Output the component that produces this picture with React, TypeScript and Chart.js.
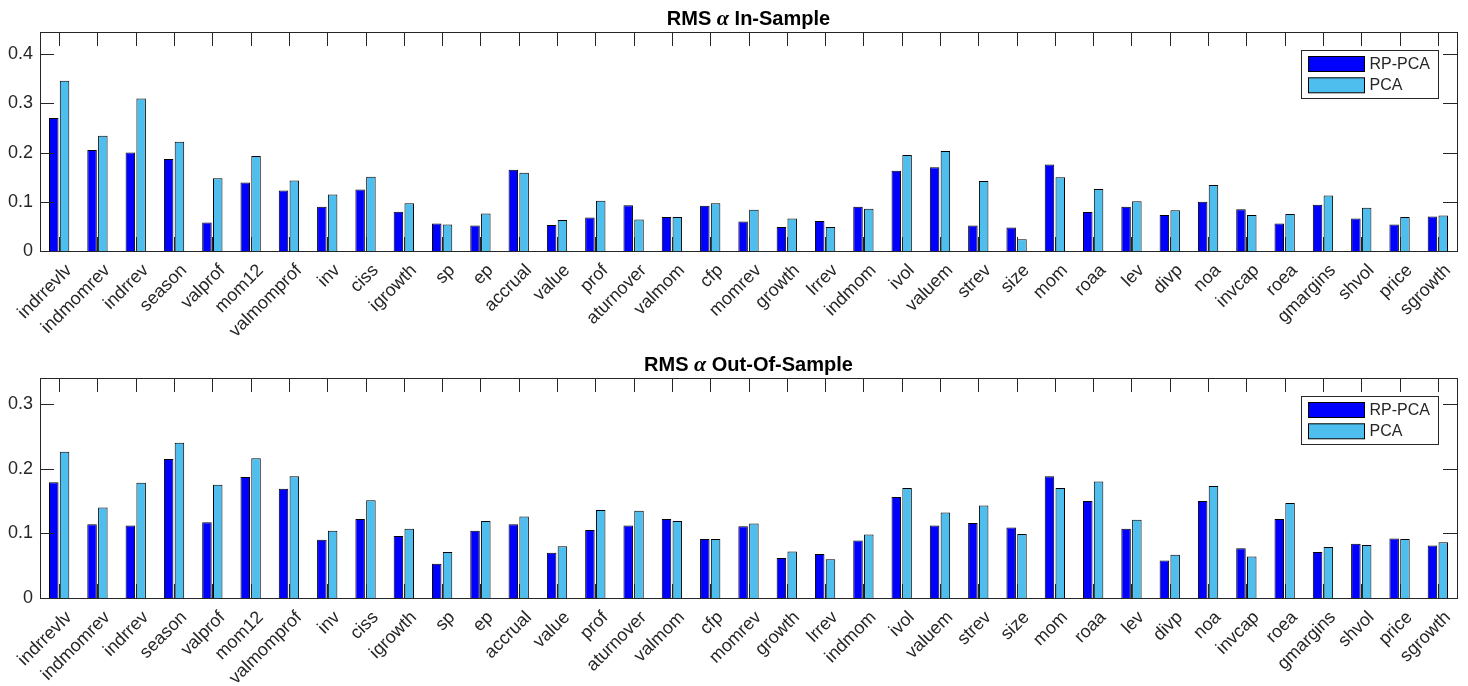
import React, { useEffect, useRef } from 'react';
import { Chart, registerables } from 'chart.js';

Chart.register(...registerables);

const categories = [
  'indrrevlv', 'indmomrev', 'indrrev', 'season', 'valprof', 'mom12', 'valmomprof', 'inv', 'ciss', 'igrowth',
  'sp', 'ep', 'accrual', 'value', 'prof', 'aturnover', 'valmom', 'cfp', 'momrev', 'growth',
  'lrrev', 'indmom', 'ivol', 'valuem', 'strev', 'size', 'mom', 'roaa', 'lev', 'divp',
  'noa', 'invcap', 'roea', 'gmargins', 'shvol', 'price', 'sgrowth',
];

const seriesNames = ['RP-PCA', 'PCA'];

const rpInSample = [
  0.270, 0.205, 0.200, 0.187, 0.058, 0.139, 0.123, 0.090, 0.125, 0.080,
  0.056, 0.052, 0.165, 0.053, 0.068, 0.093, 0.069, 0.092, 0.060, 0.049,
  0.061, 0.090, 0.163, 0.170, 0.052, 0.048, 0.176, 0.079, 0.090, 0.073,
  0.100, 0.085, 0.056, 0.094, 0.066, 0.054, 0.070,
];
const pcaInSample = [
  0.346, 0.234, 0.310, 0.222, 0.148, 0.193, 0.143, 0.115, 0.151, 0.097,
  0.054, 0.076, 0.159, 0.063, 0.102, 0.064, 0.069, 0.097, 0.084, 0.066,
  0.049, 0.086, 0.195, 0.203, 0.142, 0.024, 0.150, 0.126, 0.101, 0.083,
  0.134, 0.073, 0.075, 0.113, 0.088, 0.069, 0.072,
];
const rpOutSample = [
  0.179, 0.114, 0.112, 0.215, 0.117, 0.187, 0.169, 0.090, 0.122, 0.096,
  0.053, 0.104, 0.114, 0.070, 0.105, 0.112, 0.122, 0.091, 0.111, 0.062,
  0.068, 0.089, 0.156, 0.112, 0.116, 0.109, 0.188, 0.150, 0.107, 0.058,
  0.150, 0.077, 0.122, 0.071, 0.084, 0.092, 0.081,
];
const pcaOutSample = [
  0.226, 0.140, 0.178, 0.240, 0.175, 0.216, 0.188, 0.104, 0.151, 0.107,
  0.071, 0.119, 0.126, 0.080, 0.136, 0.135, 0.119, 0.091, 0.115, 0.072,
  0.060, 0.098, 0.170, 0.132, 0.143, 0.099, 0.170, 0.180, 0.121, 0.067,
  0.173, 0.064, 0.147, 0.079, 0.082, 0.091, 0.086,
];

const inYTicks = [0, 0.1, 0.2, 0.3, 0.4];
const outYTicks = [0, 0.1, 0.2, 0.3];
const inTitle = ['RMS ', 'α', ' In-Sample'];
const outTitle = ['RMS ', 'α', ' Out-Of-Sample'];

const RP_COLOR = '#0000FF';
const PCA_COLOR = '#4DBEEE';
const AXIS_COLOR = '#262626';
const FONT = '"Liberation Sans", Arial, Helvetica, sans-serif';
const TICK_LEN = 14;

const framePlugin = {
  id: 'matlabFrame',
  afterDraw(chart: any, _args: any, opts: any) {
    const { ctx, chartArea: a } = chart;
    const xs = chart.scales.x;
    const ys = chart.scales.y;
    ctx.save();
    ctx.strokeStyle = AXIS_COLOR;
    ctx.lineWidth = 1;
    ctx.beginPath();
    xs.ticks.forEach((_t: any, i: number) => {
      const px = Math.round(xs.getPixelForTick(i)) + 0.5;
      ctx.moveTo(px, a.bottom);
      ctx.lineTo(px, a.bottom - TICK_LEN);
      ctx.moveTo(px, a.top);
      ctx.lineTo(px, a.top + TICK_LEN);
    });
    ys.ticks.forEach((_t: any, i: number) => {
      const py = Math.round(ys.getPixelForTick(i)) + 0.5;
      ctx.moveTo(a.left, py);
      ctx.lineTo(a.left + TICK_LEN, py);
      ctx.moveTo(a.right, py);
      ctx.lineTo(a.right - TICK_LEN, py);
    });
    ctx.stroke();
    ctx.strokeRect(Math.round(a.left) + 0.5, Math.round(a.top) + 0.5, Math.round(a.right - a.left), Math.round(a.bottom - a.top));

    // legend
    const boxW = 137;
    const boxH = 48;
    const bx = Math.round(a.right - 19 - boxW) + 0.5;
    const by = Math.round(a.top + 18) + 0.5;
    ctx.fillStyle = '#ffffff';
    ctx.fillRect(bx, by, boxW, boxH);
    ctx.strokeRect(bx, by, boxW, boxH);
    ctx.font = `16px ${FONT}`;
    ctx.textBaseline = 'middle';
    ctx.textAlign = 'left';
    chart.data.datasets.forEach((ds: any, i: number) => {
      const py = by + 6 + i * 21.3;
      ctx.fillStyle = ds.backgroundColor;
      ctx.fillRect(bx + 7, py, 56, 15);
      ctx.strokeStyle = '#000';
      ctx.strokeRect(bx + 7, py, 56, 15);
      ctx.fillStyle = AXIS_COLOR;
      ctx.fillText(ds.label, bx + 68, py + 8);
    });

    // title
    const parts: string[] = opts.title;
    const fonts = [`bold 20px ${FONT}`, `italic bold 22px "Liberation Serif", "Times New Roman", serif`, `bold 20px ${FONT}`];
    let total = 0;
    const widths = parts.map((p, i) => {
      ctx.font = fonts[i];
      const w = ctx.measureText(p).width;
      total += w;
      return w;
    });
    let tx = (a.left + a.right) / 2 - total / 2;
    ctx.fillStyle = '#000';
    ctx.textBaseline = 'alphabetic';
    parts.forEach((p, i) => {
      ctx.font = fonts[i];
      ctx.fillText(p, tx, opts.titleBaseline);
      tx += widths[i];
    });
    ctx.restore();
  },
};

type PanelProps = {
  top: number;
  height: number;
  rp: number[];
  pca: number[];
  yMax: number;
  yTicks: number[];
  title: string[];
  padTop: number;
  xHeight: number;
  titleBaseline: number;
};

function Panel(props: PanelProps) {
  const ref = useRef<HTMLCanvasElement | null>(null);
  useEffect(() => {
    if (!ref.current) return;
    const chart = new Chart(ref.current, {
      type: 'bar',
      data: {
        labels: categories,
        datasets: [
          {
            label: seriesNames[0],
            data: props.rp,
            backgroundColor: RP_COLOR,
            borderColor: '#000000',
            borderWidth: 1,
            categoryPercentage: 0.564,
            barPercentage: 0.88,
          },
          {
            label: seriesNames[1],
            data: props.pca,
            backgroundColor: PCA_COLOR,
            borderColor: '#000000',
            borderWidth: 1,
            categoryPercentage: 0.564,
            barPercentage: 0.88,
          },
        ],
      },
      options: {
        responsive: false,
        animation: false,
        layout: { padding: { left: 0, right: 11, top: props.padTop, bottom: 0 } },
        plugins: {
          legend: { display: false },
          title: { display: false },
          tooltip: { enabled: false },
          matlabFrame: { title: props.title, titleBaseline: props.titleBaseline },
        } as any,
        scales: {
          x: {
            grid: { display: false, drawTicks: false },
            border: { display: false },
            ticks: {
              autoSkip: false,
              minRotation: 45,
              maxRotation: 45,
              font: { family: FONT, size: 18 },
              color: AXIS_COLOR,
              padding: 9,
              labelOffset: 10,
            },
            afterFit: (s: any) => {
              s.height = props.xHeight;
            },
          },
          y: {
            min: 0,
            max: props.yMax,
            grid: { display: false, drawTicks: false },
            border: { display: false },
            ticks: {
              font: { family: FONT, size: 18 },
              color: AXIS_COLOR,
              padding: 7,
              callback: (v: any) => String(Math.round(Number(v) * 10) / 10),
            },
            afterBuildTicks: (s: any) => {
              s.ticks = props.yTicks.map((v) => ({ value: v }));
            },
            afterFit: (s: any) => {
              s.width = 40;
            },
          },
        },
      },
      plugins: [framePlugin],
    });
    return () => chart.destroy();
  }, []);
  return (
    <canvas
      ref={ref}
      width={1468}
      height={props.height}
      style={{ position: 'absolute', left: 0, top: props.top, width: 1468, height: props.height }}
    />
  );
}

export default function App() {
  return (
    <div style={{ position: 'absolute', left: 0, top: 0, width: 1468, height: 686, background: '#ffffff' }}>
      <Panel top={0} height={343} rp={rpInSample} pca={pcaInSample} yMax={0.445} yTicks={inYTicks}
        title={inTitle} padTop={32} xHeight={92} titleBaseline={25} />
      <Panel top={343} height={343} rp={rpOutSample} pca={pcaOutSample} yMax={0.34} yTicks={outYTicks}
        title={outTitle} padTop={35} xHeight={88} titleBaseline={28} />
    </div>
  );
}
